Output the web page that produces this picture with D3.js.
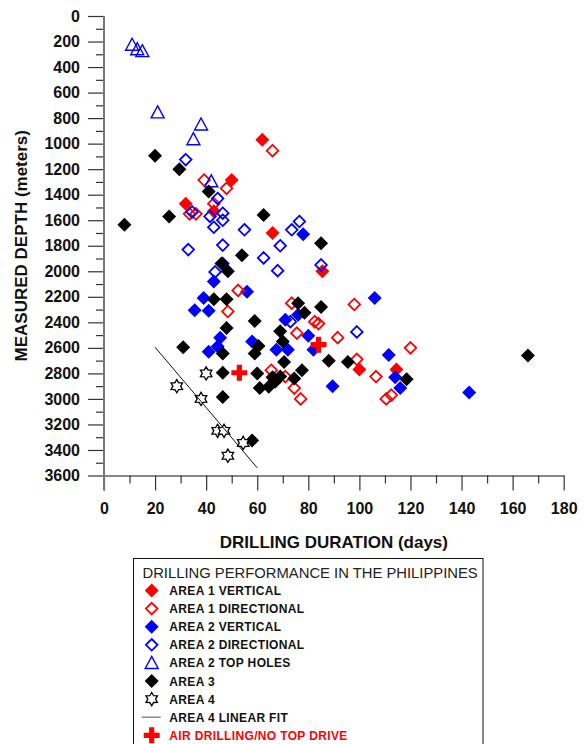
<!DOCTYPE html>
<html>
<head>
<meta charset="utf-8">
<script src="https://cdn.jsdelivr.net/npm/d3@7"></script>
<style>
  body { margin: 0; background: #fff; }
  svg { display: block; font-family: "Liberation Sans", Arial, sans-serif; }
</style>
</head>
<body>
<script>
// Chart values: [days, meters]
const area1Vertical = [[62, 970], [50, 1285], [32, 1470], [43, 1530], [66, 1700], [85.5, 2000],
  [100, 2770], [114.5, 2770]];
const area1Directional = [[66, 1055], [39.2, 1285], [48, 1350], [43, 1470], [33.5, 1550], [36, 1550],
  [52.5, 2150], [48.5, 2315], [73.5, 2250], [98, 2260], [82.5, 2395], [84, 2410], [75.5, 2485],
  [91.5, 2520], [120, 2600], [99, 2690], [65.5, 2775], [71, 2825], [74.5, 2915], [77, 3000],
  [106.5, 2825], [110.5, 3000], [112.5, 2970]];
const area2Vertical = [[78, 1710], [43, 2080], [56, 2160], [39, 2210], [106, 2210], [35.5, 2305],
  [41, 2310], [71, 2380], [76, 2340], [80, 2505], [45.5, 2520], [58, 2550], [44.5, 2590], [41, 2630],
  [67.5, 2615], [72, 2615], [82, 2615], [111.5, 2655], [89.5, 2900], [114, 2830], [116, 2915],
  [143, 2950]];
const area2Directional = [[32, 1125], [44.5, 1430], [34.5, 1535], [41.5, 1570], [46.5, 1545],
  [46.5, 1600], [43, 1655], [55, 1675], [73.5, 1675], [76.5, 1610], [69, 1800], [46.5, 1795],
  [33, 1830], [85, 1950], [68, 1995], [62.5, 1895], [43.5, 2005], [46.5, 1940], [73, 2395],
  [99, 2475]];
const area2TopHoles = [[11, 225], [13, 260], [15, 275], [21, 755], [35, 965], [38, 850], [42, 1295]];
const area3 = [[20, 1095], [29.5, 1200], [41, 1375], [25.5, 1570], [8, 1635], [62.5, 1560],
  [85, 1780], [54, 1875], [46, 1940], [48.5, 2000], [43, 2220], [48, 2220], [76, 2250], [85, 2280],
  [78.5, 2325], [59, 2390], [48, 2445], [69, 2470], [70, 2550], [60.5, 2585], [59, 2645], [31, 2595],
  [46.5, 2645], [70.5, 2710], [88, 2700], [95.5, 2710], [46.5, 2795], [60, 2800], [77.5, 2775],
  [69, 2825], [67, 2865], [74.5, 2840], [61, 2915], [64.5, 2905], [46.5, 2985], [58, 3325],
  [118.5, 2845], [166, 2660], [66, 2830]];
const area4 = [[28.5, 2900], [38, 3000], [40, 2800], [44.5, 3250], [47, 3250], [54.5, 3345],
  [48.5, 3445]];
const area4Fit = [[20, 2595], [60, 3540]];
const airDrilling = [[53, 2795], [84, 2575]];

const xTickValues = [0, 20, 40, 60, 80, 100, 120, 140, 160, 180];
const yTickValues = [0, 200, 400, 600, 800, 1000, 1200, 1400, 1600, 1800, 2000, 2200, 2400, 2600,
  2800, 3000, 3200, 3400, 3600];

const legendTitle = 'DRILLING PERFORMANCE IN THE PHILIPPINES';
const legendItems = ['AREA 1 VERTICAL', 'AREA 1 DIRECTIONAL', 'AREA 2 VERTICAL', 'AREA 2 DIRECTIONAL',
  'AREA 2 TOP HOLES', 'AREA 3', 'AREA 4', 'AREA 4 LINEAR FIT', 'AIR DRILLING/NO TOP DRIVE'];

const width = 584;
const height = 744;

const svg = d3.select('body')
    .append('svg')
    .attr('width', width)
    .attr('height', height);

const x = d3.scaleLinear().domain([0, 180]).range([104, 563.7]);
const y = d3.scaleLinear().domain([0, 3600]).range([16, 475.5]);

// marker shapes
const diamond = r => `M0,${-r}L${r},0L0,${r}L${-r},0Z`;
const triangle = r => `M0,${-r}L${r * 1.0},${r * 0.85}L${-r * 1.0},${r * 0.85}Z`;
const star = (R, r) => {
    let p = '';
    for (let i = 0; i < 12; i++) {
        const a = Math.PI / 6 * i;
        const rad = i % 2 === 0 ? R : r;
        p += (i ? 'L' : 'M') + (rad * Math.sin(a)).toFixed(2) + ',' + (-rad * Math.cos(a)).toFixed(2);
    }
    return p + 'Z';
};
const cross = (a, t) => `M${-t},${-a}H${t}V${-t}H${a}V${t}H${t}V${a}H${-t}V${t}H${-a}V${-t}H${-t}Z`;

const styles = {
    a1v: { d: diamond(7), fill: '#ff0000', stroke: 'none', sw: 0 },
    a1d: { d: diamond(5.8), fill: 'none', stroke: '#ff0000', sw: 1.8 },
    a2v: { d: diamond(7), fill: '#0000ff', stroke: 'none', sw: 0 },
    a2d: { d: diamond(5.8), fill: 'none', stroke: '#0000ff', sw: 1.8 },
    top: { d: triangle(6.5), fill: 'none', stroke: '#0000ff', sw: 1.4 },
    a3: { d: diamond(7), fill: '#000000', stroke: 'none', sw: 0 },
    a4: { d: star(6.6, 3.9), fill: '#ffffff', stroke: '#000000', sw: 1.3 },
    air: { d: cross(8, 2.6), fill: '#ff0000', stroke: 'none', sw: 0 }
};

// x axis
const xAxis = svg.append('g')
    .attr('transform', `translate(0,${y(3600)})`)
    .call(d3.axisBottom(x).tickValues(xTickValues).tickSize(15).tickSizeOuter(0).tickPadding(12)
        .tickFormat(d3.format('d')));
svg.append('g')
    .attr('transform', `translate(0,${y(3600)})`)
    .call(d3.axisBottom(x).tickValues(d3.range(10, 180, 20)).tickSize(8).tickFormat(''))
    .call(g => g.select('.domain').remove());

// y axis
const yAxis = svg.append('g')
    .attr('transform', `translate(${x(0)},0)`)
    .call(d3.axisLeft(y).tickValues(yTickValues).tickSize(16).tickSizeOuter(0).tickPadding(8)
        .tickFormat(d3.format('d')));
svg.append('g')
    .attr('transform', `translate(${x(0)},0)`)
    .call(d3.axisLeft(y).tickValues(d3.range(100, 3600, 200)).tickSize(8).tickFormat(''))
    .call(g => g.select('.domain').remove());
yAxis.select('.domain').remove();
svg.selectAll('.tick line').attr('stroke', '#333').attr('stroke-width', 1.2);
svg.selectAll('.tick text')
    .attr('font-family', '"Liberation Sans", Arial, sans-serif')
    .attr('font-size', 16)
    .attr('font-weight', 'bold')
    .attr('fill', '#111');
xAxis.select('.domain').attr('stroke', '#111').attr('stroke-width', 1.2);
svg.append('line')
    .attr('x1', x(0)).attr('x2', x(0))
    .attr('y1', y(0)).attr('y2', y(3600) + 15)
    .attr('stroke', '#777').attr('stroke-width', 2);

// axis titles
svg.append('text')
    .attr('x', (x(0) + x(180)) / 2)
    .attr('y', 548)
    .attr('text-anchor', 'middle')
    .attr('font-size', 17)
    .attr('font-weight', 'bold')
    .attr('fill', '#111')
    .text('DRILLING DURATION (days)');

svg.append('text')
    .attr('transform', 'rotate(-90)')
    .attr('x', -(y(0) + y(3600)) / 2)
    .attr('y', 27)
    .attr('text-anchor', 'middle')
    .attr('font-size', 17)
    .attr('font-weight', 'bold')
    .attr('fill', '#111')
    .text('MEASURED DEPTH (meters)');

// markers
function drawSeries(data, s) {
    svg.append('g')
        .selectAll('path')
        .data(data)
        .enter()
        .append('path')
        .attr('transform', d => `translate(${x(d[0])},${y(d[1])})`)
        .attr('d', s.d)
        .attr('fill', s.fill)
        .attr('stroke', s.stroke)
        .attr('stroke-width', s.sw)
        .attr('stroke-linejoin', 'miter');
}

drawSeries(area1Vertical, styles.a1v);
drawSeries(area2Vertical, styles.a2v);
drawSeries(area1Directional, styles.a1d);
drawSeries(area2Directional, styles.a2d);
drawSeries(area2TopHoles, styles.top);
drawSeries(area3, styles.a3);
drawSeries(area4, styles.a4);

svg.append('path')
    .datum(area4Fit)
    .attr('d', d3.line().x(d => x(d[0])).y(d => y(d[1])))
    .attr('fill', 'none')
    .attr('stroke', '#111')
    .attr('stroke-width', 1);

drawSeries(airDrilling, styles.air);

// legend
const legend = svg.append('g');
legend.append('rect')
    .attr('x', 133.5).attr('y', 558.5)
    .attr('width', 349.5).attr('height', 200)
    .attr('fill', '#fff')
    .attr('stroke', '#111')
    .attr('stroke-width', 1);

legend.append('text')
    .attr('x', 142.5).attr('y', 578)
    .attr('font-size', 14.8)
    .attr('fill', '#222')
    .text(legendTitle);

const legendSymbols = [styles.a1v, styles.a1d, styles.a2v, styles.a2d, styles.top, styles.a3, styles.a4, null, styles.air];

legendItems.forEach((name, i) => {
    const base = 595 + i * 18.1;
    const s = legendSymbols[i];
    if (s) {
        legend.append('path')
            .attr('transform', `translate(151.7,${base - 4.5})`)
            .attr('d', s.d)
            .attr('fill', s.fill)
            .attr('stroke', s.stroke)
            .attr('stroke-width', s.sw);
    } else {
        legend.append('line')
            .attr('x1', 141.7).attr('x2', 160.7)
            .attr('y1', base - 4.5).attr('y2', base - 4.5)
            .attr('stroke', '#777')
            .attr('stroke-width', 1.3);
    }
    legend.append('text')
        .attr('x', 169.3).attr('y', base)
        .attr('font-size', 12)
        .attr('font-weight', 'bold')
        .attr('letter-spacing', 0.35)
        .attr('fill', i === legendItems.length - 1 ? '#ff0000' : '#111')
        .text(name);
});
</script>
</body>
</html>
